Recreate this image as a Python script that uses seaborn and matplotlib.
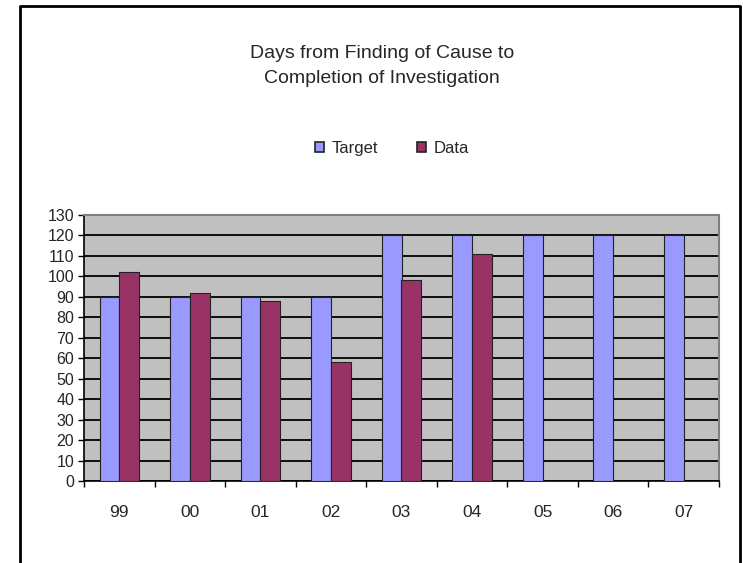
import numpy as np
import pandas as pd
import matplotlib
matplotlib.use("Agg")
import matplotlib.pyplot as plt
from matplotlib.lines import Line2D
import seaborn as sns

# ---- data ----
years = ["99", "00", "01", "02", "03", "04", "05", "06", "07"]
target = [90, 90, 90, 90, 120, 120, 120, 120, 120]
data = [102, 92, 88, 58, 98, 111, np.nan, np.nan, np.nan]
series = ["Target", "Data"]
title = "Days from Finding of Cause to\nCompletion of Investigation"
yticks = list(range(0, 131, 10))

df = pd.DataFrame({
    "Year": years * 2,
    "Series": ["Target"] * len(years) + ["Data"] * len(years),
    "Days": target + data,
})

sns.set_theme(style="white")
plt.rcParams["font.family"] = ["Liberation Sans", "DejaVu Sans"]

fig = plt.figure(figsize=(7.43, 5.63), dpi=100)
W, H = 743, 563
ax = fig.add_axes([84 / W, 1 - 481 / H, (719 - 84) / W, (481 - 215) / H])

palette = {"Target": "#9999FF", "Data": "#993366"}
sns.barplot(data=df, x="Year", y="Days", hue="Series", hue_order=series,
            order=years, palette=palette, width=0.56, gap=0,
            edgecolor="#222222", linewidth=0.8, saturation=1,
            ax=ax, legend=True, zorder=3)

ax.set_facecolor("#C0C0C0")
ax.set_ylim(0, 130)
ax.set_xlim(-0.5, len(years) - 0.5)
ax.set_yticks(yticks)
ax.set_yticklabels([str(v) for v in yticks], fontsize=11.5)
ax.yaxis.grid(True, color="black", linewidth=1.3, zorder=1)
ax.set_axisbelow(True)
ax.xaxis.grid(False)
ax.set_xlabel("")
ax.set_ylabel("")

for s in ["top", "right"]:
    ax.spines[s].set_color("#808080")
    ax.spines[s].set_linewidth(1.5)
for s in ["left", "bottom"]:
    ax.spines[s].set_color("black")
    ax.spines[s].set_linewidth(1.2)

ax.tick_params(axis="y", which="major", direction="out", length=4, width=1,
               color="black", pad=3, left=True, labelsize=11.5)
ax.set_xticks(range(len(years)))
ax.set_xticklabels(years, fontsize=12.5)
ax.tick_params(axis="x", which="major", length=0, pad=17, bottom=True)
ax.set_xticks(np.arange(-0.5, len(years), 1.0), minor=True)
ax.tick_params(axis="x", which="minor", direction="out", length=4, width=1,
               color="black", bottom=True)

handles, labels = ax.get_legend_handles_labels()
ax.get_legend().remove()
for h in handles:
    h.set_edgecolor("#222222")
    h.set_linewidth(1.2)
fig.legend(handles, labels, loc="center", bbox_to_anchor=(392 / W, 1 - 148 / H),
           ncol=2, frameon=False, fontsize=12, handlelength=0.55,
           handleheight=0.55, handletextpad=0.45, columnspacing=2.3)

fig.text(382 / W, 1 - 66 / H, title, ha="center", va="center",
         fontsize=14, linespacing=1.6)

# outer border (left, top, right)
bx0, bx1, by = 20 / W, 740 / W, 1 - 6 / H
fig.add_artist(Line2D([bx0, bx0, bx1, bx1], [0, by, by, 0],
                      transform=fig.transFigure, color="black", linewidth=2))

fig.savefig("out.png", dpi=100)
